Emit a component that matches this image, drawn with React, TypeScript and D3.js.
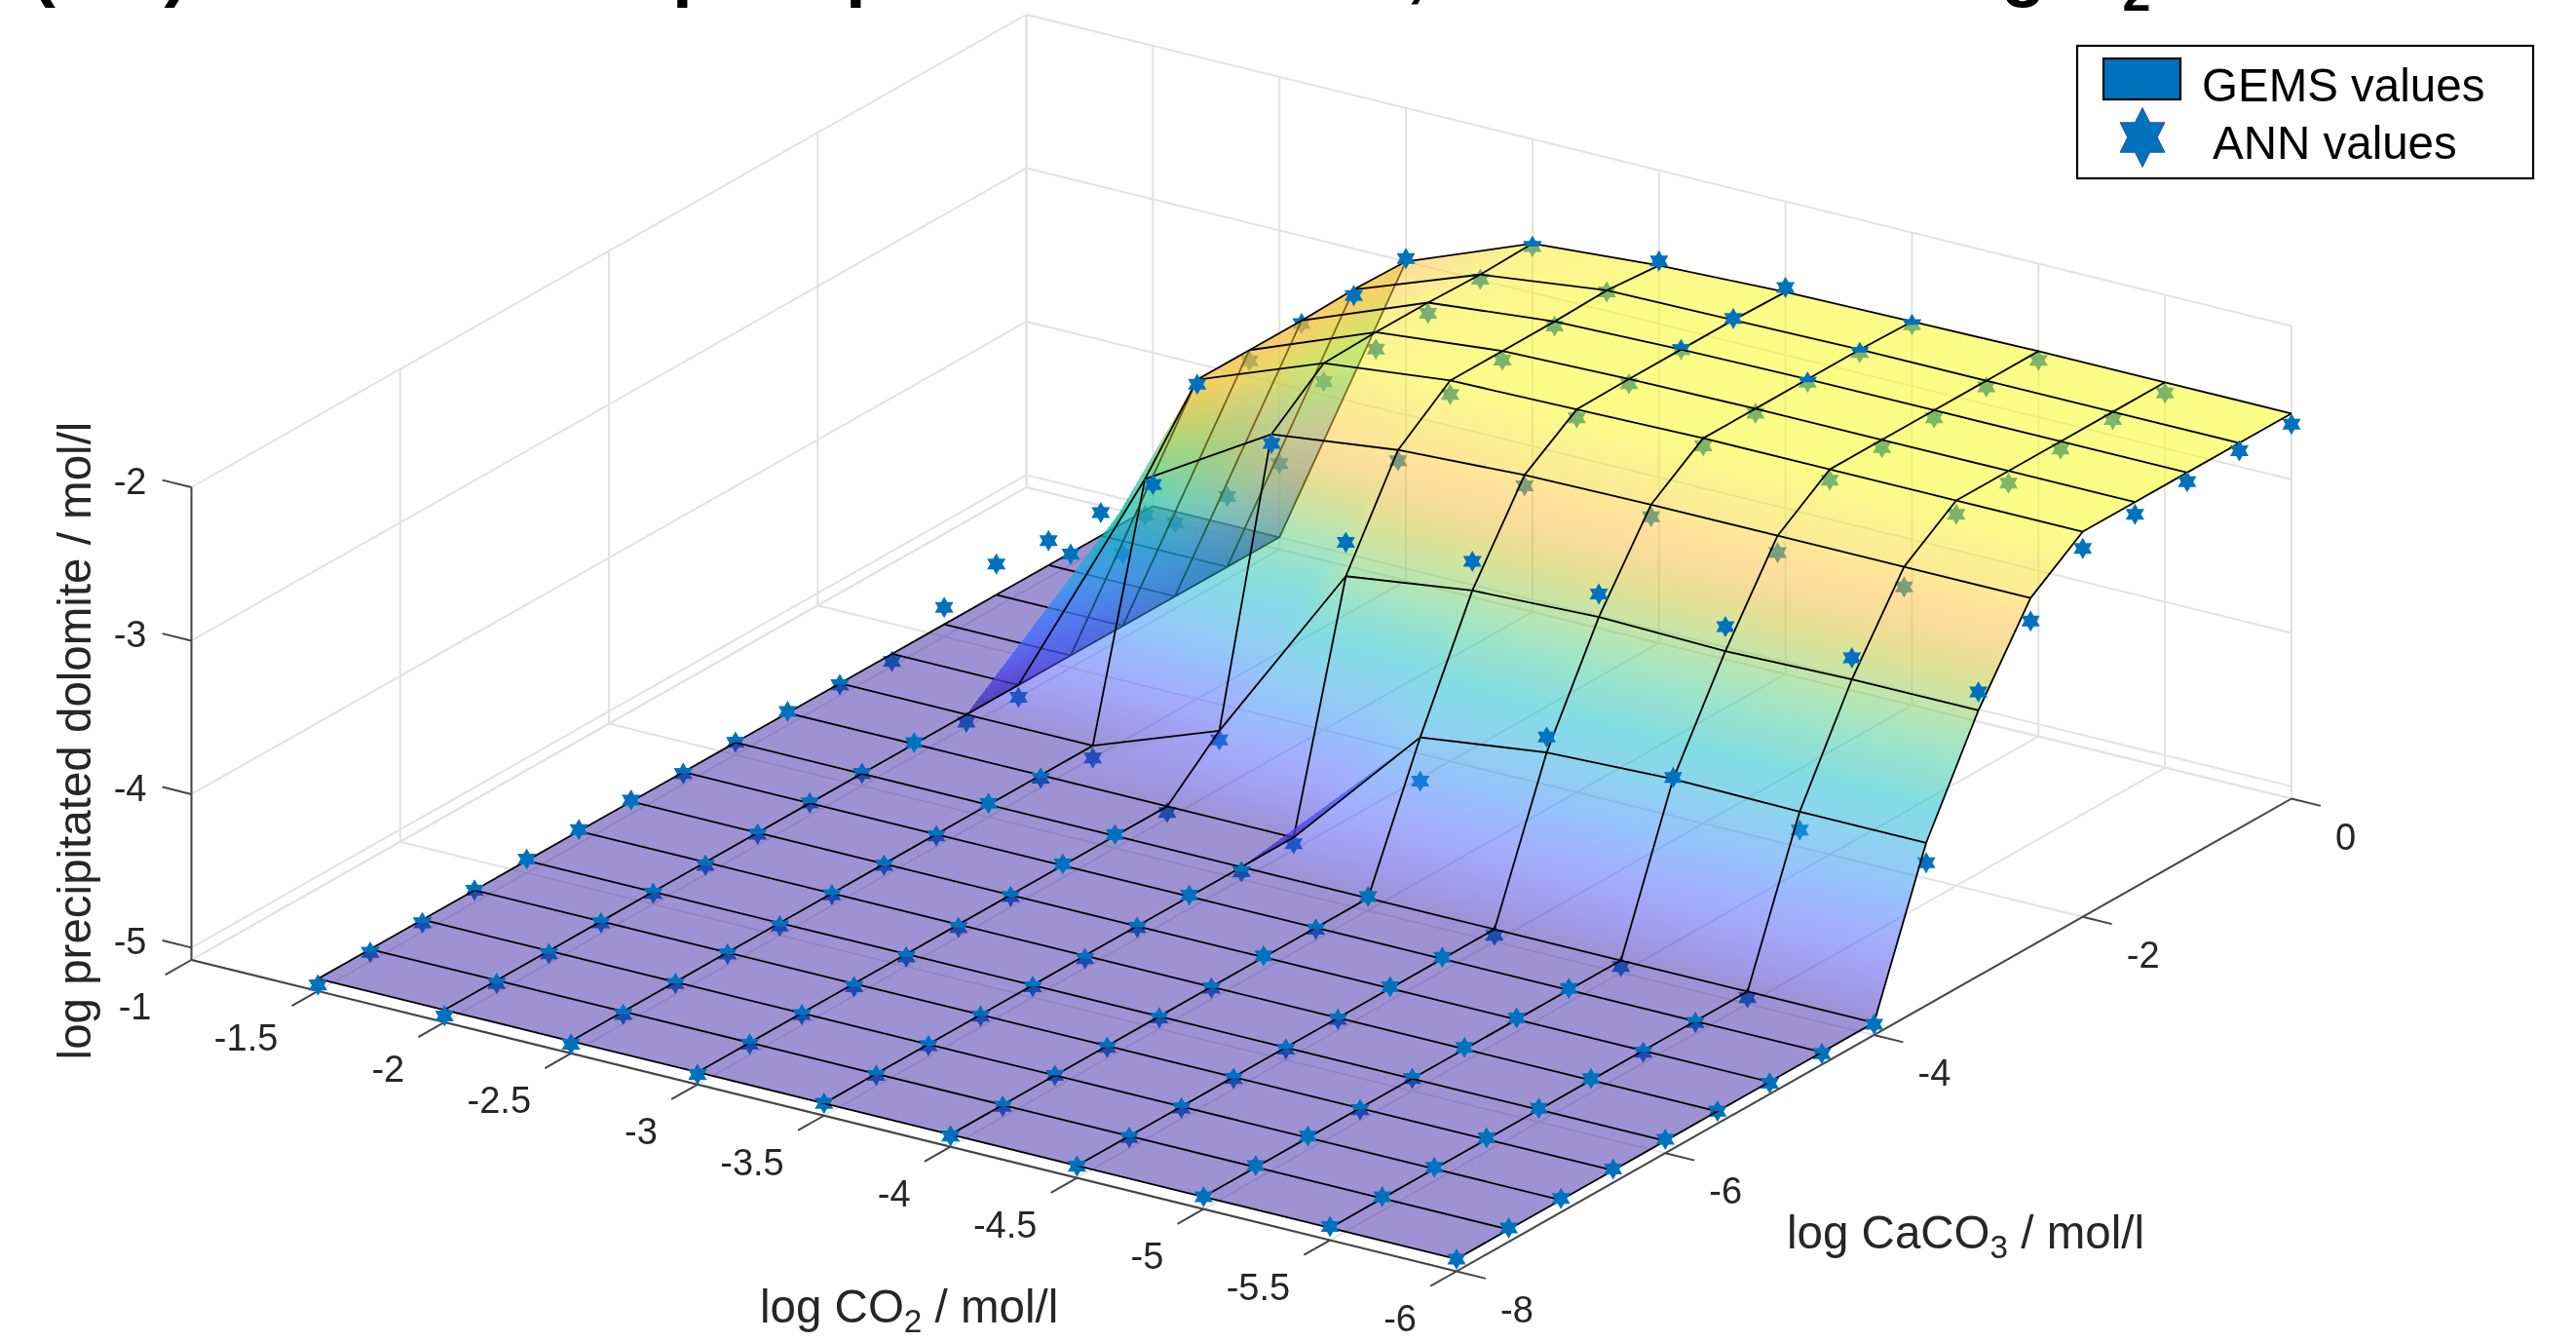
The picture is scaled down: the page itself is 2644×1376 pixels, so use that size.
import { useEffect, useRef } from "react";
import * as d3 from "d3";

const xGrid = [-1.5, -2, -2.5, -3, -3.5, -4, -4.5, -5, -5.5, -6];
const yGrid = [-8, -7.5, -7, -6.5, -6, -5.5, -5, -4.5, -4, -3.5, -3, -2.5, -2, -1.5, -1, -0.5, 0];

const xTicks = [-1, -1.5, -2, -2.5, -3, -3.5, -4, -4.5, -5, -5.5, -6];
const yTicks = [-8, -6, -4, -2, 0];
const zTicks = [-5, -4, -3, -2];

// GEMS surface, one row per yGrid value, one column per xGrid value
const flatRow = [-5, -5, -5, -5, -5, -5, -5, -5, -5, -5];
const gemsZ = [
  flatRow, flatRow, flatRow, flatRow, flatRow, flatRow, flatRow, flatRow, flatRow,
  [-5, -5, -5, -5, -5, -4.145, -4.04, -4.01, -4.02, -4.02],
  [-5, -5, -5, -4.7, -3.49, -3.38, -3.35, -3.37, -3.35, -3.35],
  [-5, -5, -3.455, -2.96, -2.86, -2.82, -2.81, -2.81, -2.81, -2.81],
  [-5, -5, -3.0, -2.69, -2.6, -2.585, -2.57, -2.57, -2.57, -2.57],
  [-5, -5, -3.0, -2.68, -2.6, -2.58, -2.57, -2.57, -2.57, -2.57],
  [-5, -5, -3.0, -2.68, -2.6, -2.58, -2.57, -2.57, -2.57, -2.57],
  [-5, -5, -2.99, -2.69, -2.59, -2.58, -2.57, -2.57, -2.57, -2.57],
  [-5, -5, -3.0, -2.68, -2.62, -2.59, -2.58, -2.57, -2.57, -2.57],
];

// ANN points, same layout
const annZ = [
  [-5.04, -5.04, -5.02, -5.015, -5.0, -5.01, -5.005, -5.0, -4.99, -5.0],
  [-5.02, -5.02, -5.02, -5.01, -5.01, -5.01, -5.01, -4.99, -4.99, -4.99],
  [-5.02, -5.02, -5.01, -5.01, -5.01, -5.0, -5.01, -4.99, -4.99, -4.99],
  [-5.0, -5.01, -5.01, -5.02, -5.01, -5.01, -5.01, -5.01, -4.99, -4.99],
  [-4.99, -5.01, -5.02, -5.02, -5.01, -5.01, -5.01, -5.0, -4.99, -4.99],
  [-4.99, -5.02, -5.01, -5.02, -5.02, -5.01, -5.01, -4.99, -4.99, -5.0],
  [-4.99, -5.01, -5.01, -5.01, -5.01, -4.99, -4.99, -4.99, -5.01, -5.01],
  [-5.01, -5.0, -5.01, -4.99, -4.99, -5.01, -4.99, -4.99, -5.01, -5.01],
  [-5.0, -5.0, -4.99, -4.99, -5.03, -4.99, -5.04, -5.04, -5.04, -5.01],
  [-4.99, -4.99, -5.02, -5.04, -5.04, -4.43, -3.94, -4.0, -4.14, -4.15],
  [-5.01, -5.05, -5.08, -4.76, -3.27, -3.19, -3.2, -3.21, -3.21, -3.23],
  [-5.05, -5.08, -3.69, -3.02, -2.93, -2.89, -2.89, -2.92, -2.94, -2.96],
  [-4.89, -4.34, -3.03, -2.81, -2.69, -2.64, -2.62, -2.64, -2.66, -2.68],
  [-4.8, -4.53, -3.07, -2.79, -2.66, -2.61, -2.6, -2.62, -2.65, -2.65],
  [-4.84, -4.52, -3.02, -2.75, -2.63, -2.58, -2.59, -2.62, -2.62, -2.63],
  [-4.85, -4.54, -3.03, -2.72, -2.6, -2.57, -2.59, -2.61, -2.62, -2.62],
  [-4.86, -4.52, -2.98, -2.7, -2.59, -2.56, -2.6, -2.63, -2.64, -2.64],
];

// how each star sits against the surface: A on top, U under it, S cut in half by it
const annDepth = [
  "SSSSSSSAAA", "SSSSSSSAAA", "SSSSSSSAAA", "SSSSSSSSAA", "ASSSSSSSAA", "ASSSSSSAAS",
  "ASSSSAAASS", "SSSAASAASS", "SSAASAUUUA", "AASUUUAAUU", "SUUUAAAAAA", "UUUAUUUUUA",
  "AAAUUUUUUA", "AUUUUUUUUA", "AUUUUSSUUA", "AUAUUASUUA", "AUASAASUUA",
];

const parula = [
  "#3e26a8", "#4332cb", "#4741e5", "#4852f4", "#4563fd", "#3875fe", "#2e87f7", "#2796eb",
  "#20a5e3", "#12b1d6", "#02bac3", "#24c1ae", "#37c897", "#57cc7a", "#81cc59", "#abc739",
  "#d1bf27", "#f0ba36", "#fec338", "#fad52c", "#f5e924", "#f9fb0e",
];

const starBlue = "#0072bd";
const inkGrey = "#262626";
const gridGrey = "#e2e2e2";
const axisGrey = "#444444";
const labelFont = "'Liberation Sans', Arial, sans-serif";

const width = 2644;
const height = 1376;
const starSize = 11;
const zFloor = -5.08;
const zTop = -2;
const xEnds: [number, number] = [-1, -6];
const yEnds: [number, number] = [-8, 0];

// the oblique view of the box: each axis moves the point along its own screen direction
const xAcross = d3.scaleLinear(xEnds, [0, 1298.5]);
const xDown = d3.scaleLinear(xEnds, [0, 319.5]);
const yAcross = d3.scaleLinear(yEnds, [0, 857]);
const yDown = d3.scaleLinear(yEnds, [0, -485]);
const zDown = d3.scaleLinear([zFloor, zTop], [0, -485]);

function project(x: number, y: number, z: number): [number, number] {
  return [196.5 + xAcross(x) + yAcross(y), 985 + xDown(x) + yDown(y) + zDown(z)];
}

function starPath(r: number, half = false) {
  const inner = r / Math.sqrt(3);
  const pts: [number, number][] = [];
  const from = half ? 180 : 0;
  const to = half ? 360 : 330;
  for (let a = from; a <= to; a += 30) {
    const odd = a % 60 === 30;
    const rad = (a * Math.PI) / 180;
    const len = odd ? r : inner;
    pts.push([len * Math.cos(rad), len * Math.sin(rad)]);
  }
  return d3.line()(pts) + "Z";
}

function App() {
  const ref = useRef<SVGSVGElement | null>(null);

  useEffect(() => {
    const svg = d3.select(ref.current);
    svg.selectAll("*").remove();
    const defs = svg.append("defs");
    defs.append("filter").attr("id", "soft").attr("x", 0).attr("y", 0)
      .attr("width", 1).attr("height", 1)
      .attr("filterUnits", "objectBoundingBox")
      .append("feGaussianBlur").attr("stdDeviation", 0.6);

    const root = svg.append("g").attr("filter", "url(#soft)");
    root.append("rect").attr("width", width).attr("height", height).attr("fill", "white");

    const zMin = d3.min(gemsZ.flat()) as number;
    const zMax = d3.max(gemsZ.flat()) as number;
    const colorAt = d3.scaleLinear<string>()
      .domain(parula.map((_, k) => k / (parula.length - 1)))
      .range(parula)
      .interpolate(d3.interpolateRgb);
    const level = d3.scaleLinear([zMin, zMax], [0, 1]).clamp(true);

    // grid on the floor and the two back walls
    const grid = root.append("g").attr("stroke", gridGrey).attr("stroke-width", 2).attr("fill", "none");
    const seg = (a: [number, number], b: [number, number]) =>
      grid.append("path").attr("d", d3.line()([a, b]));
    xTicks.forEach((x) => {
      seg(project(x, yEnds[0], zFloor), project(x, yEnds[1], zFloor));
      seg(project(x, yEnds[1], zFloor), project(x, yEnds[1], zTop));
    });
    yTicks.forEach((y) => {
      seg(project(xEnds[0], y, zFloor), project(xEnds[1], y, zFloor));
      seg(project(xEnds[0], y, zFloor), project(xEnds[0], y, zTop));
    });
    [zFloor, ...zTicks].forEach((z) => {
      seg(project(xEnds[0], yEnds[0], z), project(xEnds[0], yEnds[1], z));
      seg(project(xEnds[0], yEnds[1], z), project(xEnds[1], yEnds[1], z));
    });

    // axes and ticks
    const axes = root.append("g").attr("stroke", axisGrey).attr("stroke-width", 2).attr("fill", "none");
    const axisSeg = (a: [number, number], b: [number, number]) =>
      axes.append("path").attr("d", d3.line()([a, b]));
    axisSeg(project(xEnds[0], yEnds[0], zFloor), project(xEnds[1], yEnds[0], zFloor));
    axisSeg(project(xEnds[1], yEnds[0], zFloor), project(xEnds[1], yEnds[1], zFloor));
    axisSeg(project(xEnds[0], yEnds[0], zFloor), project(xEnds[0], yEnds[0], zTop));
    xTicks.forEach((x) => axisSeg(project(x, yEnds[0], zFloor), project(x, yEnds[0] - 0.25, zFloor)));
    yTicks.forEach((y) => axisSeg(project(xEnds[1], y, zFloor), project(xEnds[1] - 0.115, y, zFloor)));
    zTicks.forEach((z) => axisSeg(project(xEnds[0], yEnds[0], z), project(xEnds[0] + 0.115, yEnds[0], z)));

    const stars = annZ.flatMap((row, j) =>
      row.map((z, i) => ({ x: xGrid[i], y: yGrid[j], z, depth: annDepth[j][i], key: `${i}-${j}` }))
    );
    const at = (d: { x: number; y: number; z: number }) => {
      const p = project(d.x, d.y, d.z);
      return `translate(${p[0]},${p[1]})`;
    };

    // stars that end up under the surface go first, the surface tints them
    root.append("g").selectAll("path")
      .data(stars.filter((d) => d.depth !== "A"))
      .join("path")
      .attr("d", starPath(starSize))
      .attr("transform", at)
      .attr("fill", starBlue);

    // surface, back to front, each cell as two triangles
    const surface = root.append("g");
    const edgeGroupStyle = (g: d3.Selection<SVGPathElement, unknown, null, undefined>) =>
      g.attr("fill", "none").attr("stroke", "#000").attr("stroke-width", 1.8);
    let gradId = 0;

    const addTriangle = (cell: d3.Selection<SVGGElement, unknown, null, undefined>, tri: [number, number][]) => {
      const pts = tri.map(([i, j]) => ({
        p: project(xGrid[i], yGrid[j], gemsZ[j][i]),
        z: gemsZ[j][i],
      }));
      const [a, b, c] = pts;
      const det = (b.p[0] - a.p[0]) * (c.p[1] - a.p[1]) - (c.p[0] - a.p[0]) * (b.p[1] - a.p[1]);
      if (Math.abs(det) < 1e-6) return;
      const path = d3.line()(pts.map((d) => d.p)) + "Z";
      const low = pts.reduce((m, d) => (d.z < m.z ? d : m));
      const high = pts.reduce((m, d) => (d.z > m.z ? d : m));
      let fill = colorAt(level(low.z));
      if (high.z - low.z > 1e-6) {
        const gx = ((b.z - a.z) * (c.p[1] - a.p[1]) - (c.z - a.z) * (b.p[1] - a.p[1])) / det;
        const gy = ((c.z - a.z) * (b.p[0] - a.p[0]) - (b.z - a.z) * (c.p[0] - a.p[0])) / det;
        const g2 = gx * gx + gy * gy;
        const span = (high.z - low.z) / g2;
        const id = `tri${gradId++}`;
        const grad = defs.append("linearGradient")
          .attr("id", id)
          .attr("gradientUnits", "userSpaceOnUse")
          .attr("x1", low.p[0]).attr("y1", low.p[1])
          .attr("x2", low.p[0] + gx * span).attr("y2", low.p[1] + gy * span);
        d3.range(0, 13).forEach((k) => {
          const z = low.z + ((high.z - low.z) * k) / 12;
          grad.append("stop").attr("offset", k / 12).attr("stop-color", colorAt(level(z)));
        });
        fill = `url(#${id})`;
      }
      cell.append("path")
        .attr("d", path)
        .attr("fill", fill)
        .attr("fill-opacity", 0.5)
        .attr("shape-rendering", "crispEdges");
    };

    const nodeAt = (i: number, j: number) => project(xGrid[i], yGrid[j], gemsZ[j][i]);
    const addEdge = (cell: d3.Selection<SVGGElement, unknown, null, undefined>, a: [number, number], b: [number, number]) => {
      cell.append("path").attr("d", d3.line()([nodeAt(a[0], a[1]), nodeAt(b[0], b[1])]))
        .call(edgeGroupStyle as never);
    };

    for (let j = yGrid.length - 2; j >= 0; j--) {
      for (let i = 0; i < xGrid.length - 1; i++) {
        const cell = surface.append("g");
        addTriangle(cell, [[i, j], [i + 1, j], [i + 1, j + 1]]);
        addTriangle(cell, [[i, j], [i + 1, j + 1], [i, j + 1]]);
        addEdge(cell, [i, j], [i, j + 1]);
        addEdge(cell, [i, j + 1], [i + 1, j + 1]);
        if (i === xGrid.length - 2) addEdge(cell, [i + 1, j], [i + 1, j + 1]);
        if (j === 0) addEdge(cell, [i, j], [i + 1, j]);
      }
    }

    // halves of the split stars, then the stars that sit on top
    root.append("g").selectAll("path")
      .data(stars.filter((d) => d.depth === "S"))
      .join("path")
      .attr("d", starPath(starSize, true))
      .attr("transform", at)
      .attr("fill", starBlue);
    root.append("g").selectAll("path")
      .data(stars.filter((d) => d.depth === "A"))
      .join("path")
      .attr("d", starPath(starSize))
      .attr("transform", at)
      .attr("fill", starBlue);

    // tick labels
    const labels = root.append("g")
      .attr("font-family", labelFont)
      .attr("fill", inkGrey);
    const fmt = (v: number) => String(v);
    labels.append("g").attr("font-size", 38).attr("text-anchor", "end")
      .selectAll("text").data(xTicks).join("text")
      .attr("x", (d) => project(d, yEnds[0], zFloor)[0] - 41)
      .attr("y", (d) => project(d, yEnds[0], zFloor)[1] + 61)
      .text(fmt);
    labels.append("g").attr("font-size", 38).attr("text-anchor", "start")
      .selectAll("text").data(yTicks).join("text")
      .attr("x", (d) => project(xEnds[1], d, zFloor)[0] + 45)
      .attr("y", (d) => project(xEnds[1], d, zFloor)[1] + 52)
      .text(fmt);
    labels.append("g").attr("font-size", 38).attr("text-anchor", "end")
      .selectAll("text").data(zTicks).join("text")
      .attr("x", 150.5)
      .attr("y", (d) => project(xEnds[0], yEnds[0], d)[1] + 7)
      .text(fmt);

    // axis titles
    const subscript = (t: d3.Selection<SVGTextElement, unknown, null, undefined>, before: string, sub: string, after: string, size: number) => {
      t.append("tspan").text(before);
      t.append("tspan").attr("font-size", size * 0.7).attr("dy", size * 0.2).text(sub);
      t.append("tspan").attr("dy", -size * 0.2).text(after);
    };
    labels.append("text")
      .attr("font-size", 47.5)
      .attr("text-anchor", "middle")
      .attr("transform", "translate(93,760) rotate(-90)")
      .text("log precipitated dolomite / mol/l");
    const xLabel = labels.append("text").attr("font-size", 47.5).attr("x", 780).attr("y", 1357);
    subscript(xLabel as never, "log CO", "2", " / mol/l", 47.5);
    const yLabel = labels.append("text").attr("font-size", 47.5).attr("x", 1834).attr("y", 1281);
    subscript(yLabel as never, "log CaCO", "3", " / mol/l", 47.5);

    // title runs off the top edge of the picture
    const title = root.append("text")
      .attr("font-family", labelFont)
      .attr("font-weight", "bold")
      .attr("font-size", 74.5)
      .attr("fill", "#000")
      .attr("y", -7);
    title.append("tspan").attr("x", 32).text("(CO) Amount of");
    title.append("tspan").attr("x", 690).text("precipitated dolomite,");
    title.append("tspan").attr("x", 1545).text("after increasing O");
    title.append("tspan").attr("font-size", 52).attr("dy", 18).text("2");

    // legend
    const legend = root.append("g").attr("font-family", labelFont);
    legend.append("rect")
      .attr("x", 2132).attr("y", 47).attr("width", 468).attr("height", 136)
      .attr("fill", "white").attr("stroke", "#000").attr("stroke-width", 2.2);
    legend.append("rect")
      .attr("x", 2159).attr("y", 60).attr("width", 79).attr("height", 42)
      .attr("fill", starBlue).attr("stroke", "#000").attr("stroke-width", 2.2);
    legend.append("path")
      .attr("d", starPath(30.5))
      .attr("transform", "translate(2199,141) scale(0.87,1)")
      .attr("fill", starBlue)
      .attr("stroke", "#2a4f9e")
      .attr("stroke-width", 1);
    legend.append("text").attr("x", 2260).attr("y", 103.5).attr("font-size", 47.5).attr("fill", "#000").text("GEMS values");
    legend.append("text").attr("x", 2271).attr("y", 162.5).attr("font-size", 47.5).attr("fill", "#000").text("ANN values");
  }, []);

  return (
    <svg
      ref={ref}
      width={width}
      height={height}
      style={{ position: "absolute", left: 0, top: 0, display: "block" }}
    />
  );
}

export default App;
